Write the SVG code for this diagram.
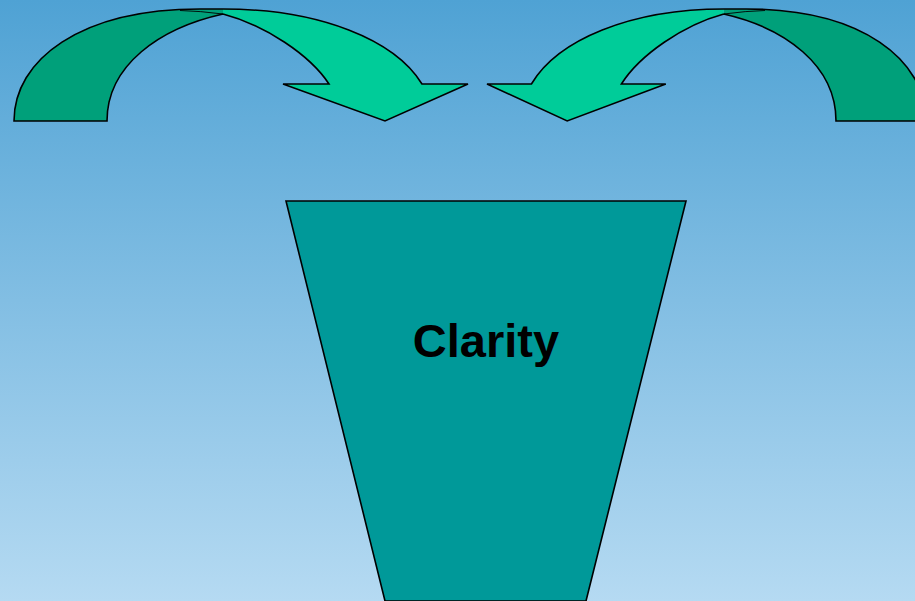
<svg xmlns="http://www.w3.org/2000/svg" width="915" height="601" viewBox="0 0 915 601">
<defs>
<linearGradient id="bg" x1="0" y1="0" x2="0" y2="1">
<stop offset="0" stop-color="#4FA2D4"/>
<stop offset="1" stop-color="#B5DAF2"/>
</linearGradient>
<style>
.ln{stroke:#000;stroke-width:1.6;fill:none;stroke-linejoin:miter}
.thin{stroke:#000;stroke-width:0.9;fill:none}
.dark{fill:#00A07A;stroke:none}
.light{fill:#00CC99;stroke:none}
.trap{fill:#009999;stroke:#000;stroke-width:1.6}
.lbl{font-family:"Liberation Sans",Arial,sans-serif;font-weight:bold;font-size:47px;fill:#000}
</style>
</defs>
<rect width="915" height="601" fill="url(#bg)"/>
<g id="arrow-left">
<path class="dark" d="M14,121 C14,60 80,9 200,9 L223,9 L223,14 C160,28 107,65 107,121 Z"/>
<path class="light" d="M223,9 C320,9 395,40 422,84 L468,84 L385,121 L283,84 L329,84 C310,55 265,25 223,14 Z"/>
<path class="thin" d="M223,14 Q200,11 180,10.5"/>
<path class="ln" d="M223,14 C160,28 107,65 107,121 L14,121 C14,60 80,9 200,9 L223,9 C320,9 395,40 422,84 L468,84 L385,121 L283,84 L329,84 C310,55 265,25 223,14"/>
</g>
<g id="arrow-right">
<path class="dark" d="M926,121 C926,60 862.1,9 746.1,9 L723.8,9 L723.8,14 C784.8,28 836,65 836,121 Z"/>
<path class="light" d="M723.8,9 C630.1,9 557.5,40 531.4,84 L487,84 L567.2,121 L665.8,84 L621.4,84 C639.7,55 683.2,25 723.8,14 Z"/>
<path class="thin" d="M723.8,14 Q746,11 765,10.5"/>
<path class="ln" d="M723.8,14 C784.8,28 836,65 836,121 L926,121 C926,60 862.1,9 746.1,9 L723.8,9 C630.1,9 557.5,40 531.4,84 L487,84 L567.2,121 L665.8,84 L621.4,84 C639.7,55 683.2,25 723.8,14"/>
</g>
<g id="clarity">
<polygon class="trap" points="286,201 686,201 586,601 385,601"/>
<text class="lbl" x="486" y="357" text-anchor="middle">Clarity</text>
</g>
</svg>
